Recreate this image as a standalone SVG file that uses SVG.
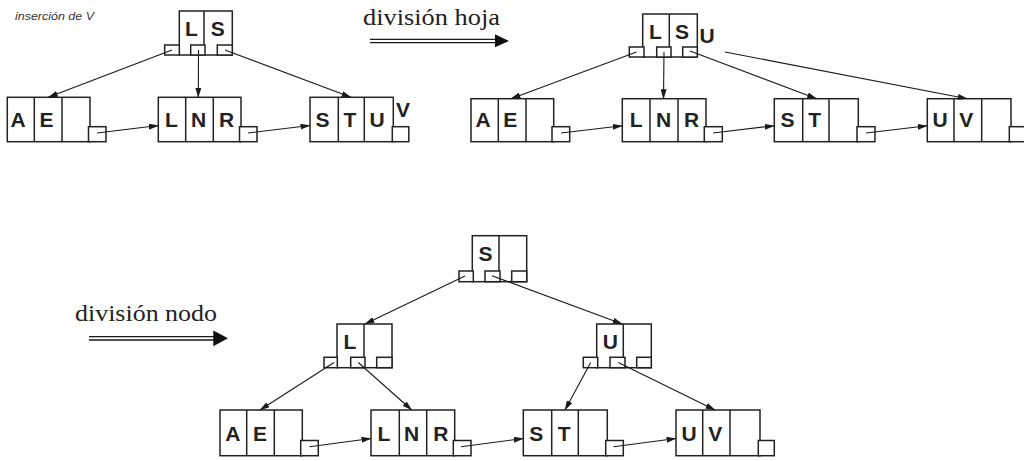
<svg xmlns="http://www.w3.org/2000/svg" width="1024" height="461" viewBox="0 0 1024 461">
<defs>
<marker id="ah" markerUnits="userSpaceOnUse" markerWidth="10" markerHeight="6" refX="9.5" refY="3" orient="auto">
<path d="M0,0 L10,3 L0,6 z" fill="#1a1a1a"/>
</marker>
<style>
.box{fill:none;stroke:#222;stroke-width:1.5}
.ptr{fill:#fff;stroke:#222;stroke-width:1.5}
.lbl{font-family:"Liberation Sans",Arial,sans-serif;font-weight:bold;font-size:21px;fill:#222;text-anchor:middle}
.con line{stroke:#1a1a1a;stroke-width:1.1;marker-end:url(#ah)}
.ser{font-family:"Liberation Serif","Times New Roman",serif;font-size:23px;fill:#222}
.dbl{stroke:#1a1a1a;stroke-width:1.3}
</style>
</defs>
<rect width="1024" height="461" fill="#fff"/>

<text x="15" y="20" font-family="Liberation Sans,Arial,sans-serif" font-style="italic" font-size="11" fill="#333" textLength="79" lengthAdjust="spacingAndGlyphs">inserción de V</text>

<g id="arrow-hoja">
<text class="ser" x="363" y="25" textLength="137" lengthAdjust="spacingAndGlyphs">división hoja</text>
<line class="dbl" x1="370" y1="39.3" x2="496" y2="39.3"/>
<line class="dbl" x1="370" y1="42.7" x2="496" y2="42.7"/>
<path d="M495,34.3 L509,41 L495,47.3 z" fill="#111"/>
</g>

<g id="arrow-nodo">
<text class="ser" x="75" y="320.5" textLength="142" lengthAdjust="spacingAndGlyphs">división nodo</text>
<line class="dbl" x1="89" y1="336.7" x2="214" y2="336.7"/>
<line class="dbl" x1="89" y1="340" x2="214" y2="340"/>
<path d="M213.3,330.5 L228,338.3 L213.3,346.3 z" fill="#111"/>
</g>

<!-- top-left tree -->
<g id="t1-root">
<rect class="box" x="179.3" y="11" width="53" height="44"/>
<line class="box" x1="204" y1="11" x2="204" y2="55"/>
<rect class="ptr" x="164.7" y="45" width="14.6" height="10"/>
<rect class="ptr" x="190.7" y="45" width="14.3" height="10"/>
<rect class="ptr" x="217.3" y="45" width="15" height="10"/>
<text class="lbl" x="191.5" y="35.5">L</text>
<text class="lbl" x="217.8" y="35.5">S</text>
</g>
<g id="t1-ae">
<rect class="box" x="7.3" y="97.3" width="82.7" height="44.4"/>
<line class="box" x1="34.3" y1="97.3" x2="34.3" y2="141.7"/>
<line class="box" x1="62" y1="97.3" x2="62" y2="141.7"/>
<rect class="ptr" x="88.5" y="126.7" width="17.5" height="15"/>
<text class="lbl" x="18" y="127">A</text>
<text class="lbl" x="46.5" y="127">E</text>
</g>
<g id="t1-lnr">
<rect class="box" x="158.3" y="97.3" width="82.7" height="44.4"/>
<line class="box" x1="185.7" y1="97.3" x2="185.7" y2="141.7"/>
<line class="box" x1="213.3" y1="97.3" x2="213.3" y2="141.7"/>
<rect class="ptr" x="239.5" y="126.7" width="17.5" height="15"/>
<text class="lbl" x="171.5" y="127">L</text>
<text class="lbl" x="198.7" y="127">N</text>
<text class="lbl" x="226.7" y="127">R</text>
</g>
<g id="t1-stu">
<rect class="box" x="310" y="97.3" width="83.3" height="44.4"/>
<line class="box" x1="338.3" y1="97.3" x2="338.3" y2="141.7"/>
<line class="box" x1="364.3" y1="97.3" x2="364.3" y2="141.7"/>
<rect class="ptr" x="392.3" y="126.7" width="16.5" height="15"/>
<text class="lbl" x="322.5" y="127">S</text>
<text class="lbl" x="350" y="127">T</text>
<text class="lbl" x="377" y="127">U</text>
<text class="lbl" x="403" y="117">V</text>
</g>

<!-- top-right tree -->
<g id="t2-root">
<rect class="box" x="642.7" y="14" width="54.6" height="43"/>
<line class="box" x1="669.3" y1="14" x2="669.3" y2="57"/>
<rect class="ptr" x="629.3" y="47" width="14.7" height="10"/>
<rect class="ptr" x="656.7" y="47" width="14.3" height="10"/>
<rect class="ptr" x="682.7" y="47" width="14.6" height="10"/>
<text class="lbl" x="655.5" y="38.5">L</text>
<text class="lbl" x="682" y="38.5">S</text>
<text class="lbl" x="707" y="42.5">U</text>
</g>
<g id="t2-ae">
<rect class="box" x="471" y="98.7" width="82.7" height="43"/>
<line class="box" x1="498.3" y1="98.7" x2="498.3" y2="141.7"/>
<line class="box" x1="526" y1="98.7" x2="526" y2="141.7"/>
<rect class="ptr" x="552" y="126.7" width="17.7" height="15"/>
<text class="lbl" x="483" y="126.7">A</text>
<text class="lbl" x="510.2" y="126.7">E</text>
</g>
<g id="t2-lnr">
<rect class="box" x="622.3" y="98.7" width="83.7" height="43"/>
<line class="box" x1="650" y1="98.7" x2="650" y2="141.7"/>
<line class="box" x1="678" y1="98.7" x2="678" y2="141.7"/>
<rect class="ptr" x="704.3" y="126.7" width="18" height="15"/>
<text class="lbl" x="636.2" y="126.7">L</text>
<text class="lbl" x="663.7" y="126.7">N</text>
<text class="lbl" x="691.7" y="126.7">R</text>
</g>
<g id="t2-st">
<rect class="box" x="774.3" y="98.7" width="84" height="43"/>
<line class="box" x1="802.7" y1="98.7" x2="802.7" y2="141.7"/>
<line class="box" x1="829" y1="98.7" x2="829" y2="141.7"/>
<rect class="ptr" x="857" y="126.7" width="18" height="15"/>
<text class="lbl" x="787.5" y="126.7">S</text>
<text class="lbl" x="814.7" y="126.7">T</text>
</g>
<g id="t2-uv">
<rect class="box" x="927.3" y="98.7" width="83.7" height="43"/>
<line class="box" x1="954" y1="98.7" x2="954" y2="141.7"/>
<line class="box" x1="981.7" y1="98.7" x2="981.7" y2="141.7"/>
<rect class="ptr" x="1009.3" y="126.7" width="17" height="15"/>
<text class="lbl" x="940" y="126.7">U</text>
<text class="lbl" x="966.3" y="126.7">V</text>
</g>

<!-- bottom tree -->
<g id="t3-s">
<rect class="box" x="472.3" y="235.7" width="54.4" height="46"/>
<line class="box" x1="499" y1="235.7" x2="499" y2="281.7"/>
<rect class="ptr" x="459" y="271" width="14.3" height="10.7"/>
<rect class="ptr" x="485" y="271" width="15" height="10.7"/>
<rect class="ptr" x="511.7" y="271" width="15" height="10.7"/>
<text class="lbl" x="485.5" y="261">S</text>
</g>
<g id="t3-l">
<rect class="box" x="337" y="324" width="55" height="43.7"/>
<line class="box" x1="364" y1="324" x2="364" y2="367.7"/>
<rect class="ptr" x="324" y="357.3" width="13.3" height="10.4"/>
<rect class="ptr" x="350.7" y="357.3" width="14.3" height="10.4"/>
<rect class="ptr" x="376.7" y="357.3" width="15.3" height="10.4"/>
<text class="lbl" x="350" y="348.5">L</text>
</g>
<g id="t3-u">
<rect class="box" x="596.7" y="324" width="54.6" height="43.7"/>
<line class="box" x1="623.3" y1="324" x2="623.3" y2="367.7"/>
<rect class="ptr" x="583.3" y="357.3" width="14.4" height="10.4"/>
<rect class="ptr" x="610" y="357.3" width="15" height="10.4"/>
<rect class="ptr" x="636.7" y="357.3" width="14.6" height="10.4"/>
<text class="lbl" x="610.3" y="348.5">U</text>
</g>
<g id="t3-ae">
<rect class="box" x="220" y="410" width="82.3" height="45.7"/>
<line class="box" x1="246.7" y1="410" x2="246.7" y2="455.7"/>
<line class="box" x1="274.3" y1="410" x2="274.3" y2="455.7"/>
<rect class="ptr" x="300.7" y="440.5" width="17.6" height="15.2"/>
<text class="lbl" x="232.8" y="441">A</text>
<text class="lbl" x="260" y="441">E</text>
</g>
<g id="t3-lnr">
<rect class="box" x="371" y="410" width="83.7" height="45.7"/>
<line class="box" x1="399.3" y1="410" x2="399.3" y2="455.7"/>
<line class="box" x1="426.7" y1="410" x2="426.7" y2="455.7"/>
<rect class="ptr" x="453.3" y="440.5" width="17.7" height="15.2"/>
<text class="lbl" x="383.8" y="441">L</text>
<text class="lbl" x="411.7" y="441">N</text>
<text class="lbl" x="440.8" y="441">R</text>
</g>
<g id="t3-st">
<rect class="box" x="523.3" y="410" width="84" height="45.7"/>
<line class="box" x1="551.7" y1="410" x2="551.7" y2="455.7"/>
<line class="box" x1="578.3" y1="410" x2="578.3" y2="455.7"/>
<rect class="ptr" x="605.7" y="440.5" width="17.6" height="15.2"/>
<text class="lbl" x="536.3" y="441">S</text>
<text class="lbl" x="564.2" y="441">T</text>
</g>
<g id="t3-uv">
<rect class="box" x="676" y="410" width="84" height="45.7"/>
<line class="box" x1="702.7" y1="410" x2="702.7" y2="455.7"/>
<line class="box" x1="730" y1="410" x2="730" y2="455.7"/>
<rect class="ptr" x="758.3" y="440.5" width="16" height="15.2"/>
<text class="lbl" x="689.2" y="441">U</text>
<text class="lbl" x="715.3" y="441">V</text>
</g>

<g id="connectors" class="con">
<line x1="172" y1="50" x2="48.3" y2="97.3"/>
<line x1="198.5" y1="50" x2="198.3" y2="97.3"/>
<line x1="225" y1="50" x2="351" y2="97.3"/>
<line x1="97" y1="133" x2="158.3" y2="125.5"/>
<line x1="248" y1="133" x2="310" y2="125.5"/>

<line x1="636.5" y1="52" x2="511" y2="98.7"/>
<line x1="664" y1="52" x2="663.5" y2="98.7"/>
<line x1="690" y1="51" x2="816.7" y2="98.7"/>
<line x1="725" y1="52" x2="967.3" y2="98.7"/>
<line x1="561" y1="133" x2="622.3" y2="125.7"/>
<line x1="713" y1="133" x2="774.3" y2="125.7"/>
<line x1="866" y1="133" x2="927.3" y2="125.7"/>

<line x1="465" y1="276" x2="365" y2="324"/>
<line x1="492" y1="275.7" x2="622.3" y2="324"/>
<line x1="334" y1="362.5" x2="260" y2="410"/>
<line x1="358.3" y1="362.5" x2="411.7" y2="410"/>
<line x1="590.7" y1="362.5" x2="565" y2="410"/>
<line x1="618.3" y1="362.5" x2="715" y2="410"/>
<line x1="309.5" y1="446.7" x2="371" y2="438.5"/>
<line x1="461" y1="446.7" x2="523.3" y2="438.5"/>
<line x1="613.5" y1="446.7" x2="676" y2="438.5"/>
</g>
</svg>
